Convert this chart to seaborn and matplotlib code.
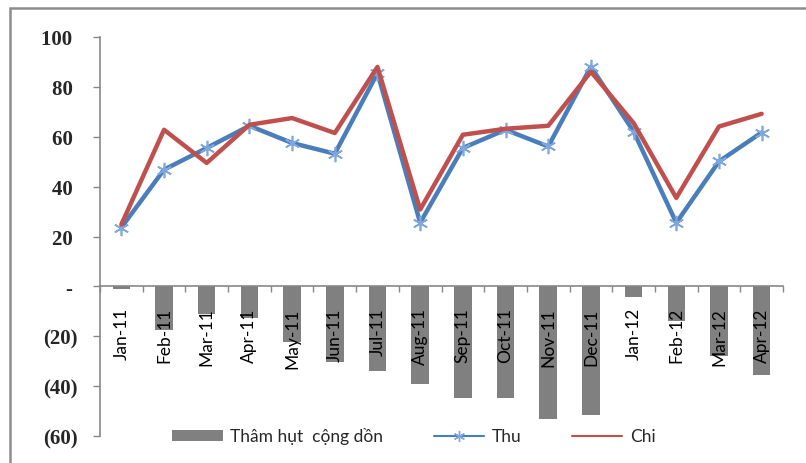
import matplotlib
matplotlib.use("Agg")
import matplotlib.pyplot as plt
from matplotlib.lines import Line2D
from matplotlib.patches import Patch, Rectangle
import seaborn as sns
import pandas as pd

months = ["Jan-11", "Feb-11", "Mar-11", "Apr-11", "May-11", "Jun-11", "Jul-11",
          "Aug-11", "Sep-11", "Oct-11", "Nov-11", "Dec-11", "Jan-12", "Feb-12",
          "Mar-12", "Apr-12"]
tham_hut = [-1, -17.5, -11.2, -12.5, -22.3, -30.3, -34, -39.3, -44.7, -44.7,
            -53, -51.5, -4.3, -14, -28, -35.5]
thu = [23.6, 46.8, 55.5, 64.4, 57.5, 53.2, 85.5, 25.5, 55.5, 62.8, 56.1, 88.1,
       62.1, 25.5, 50.1, 61.7]
chi = [24.8, 62.8, 49.5, 64.8, 67.5, 61.5, 88, 30.8, 60.8, 63.2, 64.4, 86.1,
       65.5, 35.5, 64.1, 69.2]
y_ticks = [100, 80, 60, 40, 20, 0, -20, -40, -60]
y_labels = ["100 ", "80 ", "60 ", "40 ", "20 ", "- ", "(20)", "(40)", "(60)"]

BAR = "#808080"
THU = "#4a7ebb"
THU_MK = "#7fa7dc"
CHI = "#c0504d"
AXIS = "#878787"

sns.set_theme(style="white")
plt.rcParams["font.family"] = ["Lato", "DejaVu Sans"]

df = pd.DataFrame({"idx": range(len(months)), "month": months,
                   "tham_hut": tham_hut, "thu": thu, "chi": chi})

fig = plt.figure(figsize=(8.06, 4.64), dpi=100)
ax = fig.add_axes([100 / 806, 1 - 437 / 464, 683 / 806, 399 / 464])

sns.barplot(data=df, x="idx", y="tham_hut", color=BAR, width=0.41,
            saturation=1, ax=ax, native_scale=True, edgecolor="none")
sns.lineplot(data=df, x="idx", y="thu", color=THU, linewidth=3.2, ax=ax,
             marker=(6, 2, 0), markersize=11, markeredgecolor=THU_MK,
             markeredgewidth=1.2)
sns.lineplot(data=df, x="idx", y="chi", color=CHI, linewidth=3.2, ax=ax)
for ln in ax.get_lines():
    ln.set_zorder(3)

ax.set_axisbelow(False)
ax.set_xlim(-0.5, len(months) - 0.5)
ax.set_ylim(-60, 100)
ax.set_xlabel("")
ax.set_ylabel("")

for s in ["top", "right"]:
    ax.spines[s].set_visible(False)
ax.spines["left"].set_color(AXIS)
ax.spines["left"].set_linewidth(1.2)
ax.spines["bottom"].set_position(("data", 0))
ax.spines["bottom"].set_color(AXIS)
ax.spines["bottom"].set_linewidth(1.2)

ax.set_yticks(y_ticks)
ax.set_yticklabels(y_labels, fontfamily="Liberation Serif", fontweight="bold",
                   fontsize=15)
ax.tick_params(axis="y", direction="out", length=5, width=1, color=AXIS,
               pad=11, left=True)

ax.set_xticks(range(len(months)))
ax.set_xticklabels(months, rotation=90, fontsize=12.5, color="black")
ax.tick_params(axis="x", which="major", length=0, pad=15)
ax.set_xticks([i - 0.5 for i in range(len(months) + 1)], minor=True)
ax.tick_params(axis="x", which="minor", direction="out", length=4, width=1,
               color=AXIS, bottom=True)
for lbl in ax.get_xticklabels():
    lbl.set_va("top")
    lbl.set_ha("center")

handles = [Patch(facecolor=BAR, edgecolor="none"),
           Line2D([], [], color=THU, linewidth=1.5, marker=(6, 2, 0),
                  markersize=8, markeredgecolor=THU_MK, markeredgewidth=1),
           Line2D([], [], color=CHI, linewidth=1.5)]
fig.legend(handles, ["Thâm hụt  cộng dồn", "Thu", "Chi"], loc="center",
           bbox_to_anchor=(414 / 806, 1 - 437 / 464), ncol=3, frameon=False,
           fontsize=12.5, handlelength=2.9, handleheight=0.6,
           columnspacing=2.9, handletextpad=0.45)

fig.patches.append(Rectangle((10 / 806, -0.1), 1.2, 1 - 9 / 464 + 0.1,
                             transform=fig.transFigure, fill=False,
                             edgecolor="#8c8c8c", linewidth=1.8))

fig.savefig("out.png", dpi=100)
